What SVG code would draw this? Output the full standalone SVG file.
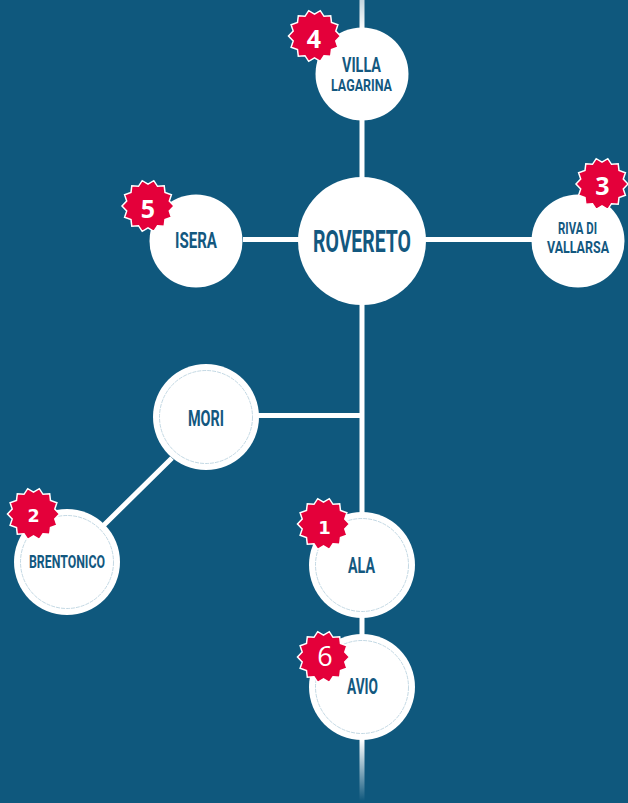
<svg xmlns="http://www.w3.org/2000/svg" width="628" height="803" viewBox="0 0 628 803">
<style>
.n{fill:#fff}
.ring{fill:none;stroke:#b4cedc;stroke-width:.8;stroke-dasharray:4 1}
.t{font-family:"Roboto","Liberation Sans",sans-serif;font-weight:700;fill:#13587f;text-anchor:start}
.d{font-family:"Open Sans","Noto Sans",sans-serif;font-weight:700;fill:#fff;text-anchor:middle}
.w{font-family:"DejaVu Sans",sans-serif;font-weight:700;fill:#fff;text-anchor:middle}
.star{fill:#e4003a;stroke:#fff;stroke-width:1.500;stroke-linejoin:miter}
.c{stroke:#fff;stroke-width:5;fill:none}
</style>
<defs>
<linearGradient id="fadeTop" gradientUnits="userSpaceOnUse" x1="0" y1="0" x2="0" y2="30"><stop offset="0" stop-color="#fff" stop-opacity=".75"/><stop offset="1" stop-color="#fff"/></linearGradient>
<linearGradient id="fadeBot" gradientUnits="userSpaceOnUse" x1="0" y1="740" x2="0" y2="801"><stop offset="0" stop-color="#fff"/><stop offset="1" stop-color="#fff" stop-opacity="0"/></linearGradient>
<polygon id="s" points="26,0 21.300,4.900 23.400,11.300 17,13.600 16.200,20.300 9.500,19.700 5.800,25.300 0,21.800 -5.800,25.300 -9.500,19.700 -16.200,20.300 -17,13.600 -23.400,11.300 -21.300,4.900 -26,0 -21.300,-4.900 -23.400,-11.300 -17,-13.600 -16.200,-20.300 -9.500,-19.700 -5.800,-25.300 0,-21.800 5.800,-25.300 9.500,-19.700 16.200,-20.300 17,-13.600 23.400,-11.300 21.300,-4.900"/>
</defs>
<rect width="628" height="803" fill="#0f587d"/>
<g id="connectors">
<rect x="359.500" y="0" width="5" height="30" fill="url(#fadeTop)"/>
<path class="c" d="M362 30V740M243 239.500H532M258 415.500H362M172 458L104 525"/>
<rect x="359.500" y="740" width="5" height="61" fill="url(#fadeBot)"/>
</g>
<g id="node-villa-lagarina">
<circle class="n" cx="362" cy="74" r="46.500"/>
<text class="t" x="342" y="71.500" font-size="20" textLength="39" lengthAdjust="spacingAndGlyphs">VILLA</text>
<text class="t" x="331" y="90.500" font-size="17" textLength="61" lengthAdjust="spacingAndGlyphs">LAGARINA</text>
<use href="#s" class="star" x="314.500" y="36"/>
<text class="d" x="314" y="48" font-size="25">4</text>
</g>
<g id="node-isera">
<circle class="n" cx="196" cy="241" r="46.500"/>
<text class="t" x="175" y="248" font-size="22" textLength="42" lengthAdjust="spacingAndGlyphs">ISERA</text>
<use href="#s" class="star" x="148" y="206"/>
<text class="d" x="148" y="218" font-size="25">5</text>
</g>
<g id="node-rovereto">
<circle class="n" cx="362" cy="241" r="64"/>
<text class="t" x="313" y="252" font-size="32" textLength="98" lengthAdjust="spacingAndGlyphs">ROVERETO</text>
</g>
<g id="node-riva-di-vallarsa">
<circle class="n" cx="578" cy="241" r="46.500"/>
<text class="t" x="558" y="233.500" font-size="17" textLength="39" lengthAdjust="spacingAndGlyphs">RIVA DI</text>
<text class="t" x="547" y="252.500" font-size="17" textLength="62" lengthAdjust="spacingAndGlyphs">VALLARSA</text>
<use href="#s" class="star" x="602" y="184"/>
<text class="d" x="602.500" y="195" font-size="25">3</text>
</g>
<g id="node-mori">
<circle class="n" cx="206" cy="417" r="53"/>
<circle class="ring" cx="206" cy="417" r="46.500"/>
<text class="t" x="188" y="425.500" font-size="22" textLength="36" lengthAdjust="spacingAndGlyphs">MORI</text>
</g>
<g id="node-brentonico">
<circle class="n" cx="67" cy="562" r="53"/>
<circle class="ring" cx="67" cy="562" r="46.500"/>
<text class="t" x="29" y="568" font-size="18" textLength="76" lengthAdjust="spacingAndGlyphs">BRENTONICO</text>
<use href="#s" class="star" x="33.500" y="514"/>
<text class="w" x="33.500" y="522" font-size="17.500">2</text>
</g>
<g id="node-ala">
<circle class="n" cx="362" cy="565" r="53"/>
<circle class="ring" cx="362" cy="565" r="46.500"/>
<text class="t" x="348" y="573" font-size="22" textLength="27" lengthAdjust="spacingAndGlyphs">ALA</text>
<use href="#s" class="star" x="323.500" y="524"/>
<text class="w" x="324.500" y="534" font-size="18">1</text>
</g>
<g id="node-avio">
<circle class="n" cx="362" cy="687" r="53"/>
<circle class="ring" cx="362" cy="687" r="46.500"/>
<text class="t" x="347" y="694" font-size="22" textLength="31" lengthAdjust="spacingAndGlyphs">AVIO</text>
<use href="#s" class="star" x="323.500" y="657"/>
<text class="d" x="325" y="666" font-size="27" style="font-weight:500">6</text>
</g>
</svg>
